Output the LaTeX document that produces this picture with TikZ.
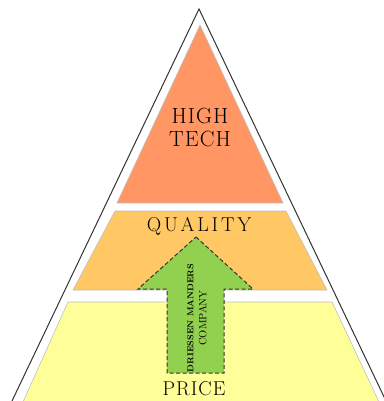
\documentclass[tikz,border=0pt]{standalone}
\usepackage{fontspec}
\setmainfont{Latin Modern Roman}
\newfontfamily\capsfont[LetterSpace=5]{Latin Modern Roman}
\newfontfamily\widecapsfont[LetterSpace=14]{Latin Modern Roman}
\begin{document}
\begin{tikzpicture}[x=1pt,y=-1pt,
  lbl/.style={font=\capsfont\fontsize{22}{22}\selectfont, text=black, inner sep=0pt},
  arrowshape/.style={draw=black!80, dash pattern=on 4pt off 2.5pt, line width=1pt}]
\useasboundingbox (0,0) rectangle (383,401);
% outer triangle
\draw[black!80, line width=1pt] (12,401) -- (199,9) -- (386,401);
% tiers
\fill[fill={rgb,255:red,255;green,150;blue,100}] (200,25) -- (283,203) -- (117,203) -- cycle;
\fill[fill={rgb,255:red,255;green,200;blue,100}] (115,211) -- (286,211) -- (327,290) -- (73,290) -- cycle;
\fill[fill={rgb,255:red,255;green,255;blue,153}] (68,302) -- (332,302) -- (379,402) -- (23,402) -- cycle;
\draw[black!25, line width=0.6pt] (200,25) -- (283,203) -- (117,203) -- cycle;
\draw[black!25, line width=0.6pt] (115,211) -- (286,211) -- (327,290) -- (73,290) -- cycle;
\draw[black!25, line width=0.6pt] (23,402) -- (68,302) -- (332,302) -- (379,402);
% arrow
\filldraw[arrowshape, fill={rgb,255:red,146;green,208;blue,80}] (196,237) -- (253,289) -- (224,289) -- (224,373) -- (167,373) -- (167,289) -- (138,289) -- cycle;
% labels
\node[lbl] (high) at (200,116) {HIGH};
\node[lbl] (tech) at (200,139) {TECH};
\node[lbl, font=\widecapsfont\fontsize{20}{20}\selectfont] (quality) at (199,226) {QUALITY};
\node[lbl, font=\capsfont\fontsize{20}{20}\selectfont] (price) at (194,389) {PRICE};
\node[rotate=90, align=center, inner sep=0pt, text=black] (company) at (197,318) {{\bfseries\fontsize{8.6}{10}\selectfont DRIESSEN MANDERS}\\[1pt]{\fontsize{10.5}{12}\selectfont COMPANY}};
\end{tikzpicture}
\end{document}
